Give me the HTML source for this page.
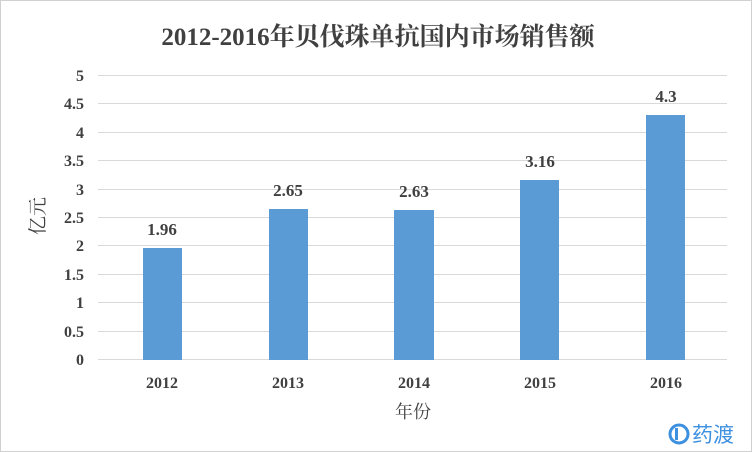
<!DOCTYPE html>
<html><head><meta charset="utf-8"><style>
html,body{margin:0;padding:0;background:#fff}
svg{display:block}
text{font-family:"Liberation Serif","Noto Serif CJK SC",serif;fill:#404040}
</style></head><body>
<svg width="752" height="452" viewBox="0 0 752 452">
<rect x="0.5" y="0.5" width="751" height="451" fill="#fff" stroke="#d0d0d0" stroke-width="1"/>
<text x="378" y="45" text-anchor="middle" font-size="25" font-weight="bold">2012-2016年贝伐珠单抗国内市场销售额</text>
<g stroke="#d9d9d9" stroke-width="1">
<line x1="98" x2="727" y1="75.5" y2="75.5"/>
<line x1="98" x2="727" y1="103.5" y2="103.5"/>
<line x1="98" x2="727" y1="132.5" y2="132.5"/>
<line x1="98" x2="727" y1="160.5" y2="160.5"/>
<line x1="98" x2="727" y1="189.5" y2="189.5"/>
<line x1="98" x2="727" y1="217.5" y2="217.5"/>
<line x1="98" x2="727" y1="245.5" y2="245.5"/>
<line x1="98" x2="727" y1="274.5" y2="274.5"/>
<line x1="98" x2="727" y1="302.5" y2="302.5"/>
<line x1="98" x2="727" y1="331.5" y2="331.5"/>
<line x1="98" x2="727" y1="359.5" y2="359.5"/>
</g>
<g font-size="16" font-weight="bold" text-anchor="end">
<text x="84" y="81">5</text><text x="84" y="109">4.5</text><text x="84" y="138">4</text>
<text x="84" y="166">3.5</text><text x="84" y="195">3</text><text x="84" y="223">2.5</text>
<text x="84" y="251">2</text><text x="84" y="280">1.5</text><text x="84" y="308">1</text>
<text x="84" y="337">0.5</text><text x="84" y="365">0</text>
</g>
<g fill="#5b9bd5">
<rect x="143" y="248" width="39" height="112"/>
<rect x="269" y="209" width="39" height="151"/>
<rect x="394" y="210" width="40" height="150"/>
<rect x="520" y="180" width="39" height="180"/>
<rect x="646" y="115" width="39" height="245"/>
</g>
<g font-size="17" font-weight="bold" text-anchor="middle">
<text x="162" y="235">1.96</text><text x="288" y="196">2.65</text>
<text x="414" y="197">2.63</text><text x="540" y="167">3.16</text>
<text x="666" y="102">4.3</text>
</g>
<g font-size="16" font-weight="bold" text-anchor="middle">
<text x="162" y="388">2012</text><text x="288" y="388">2013</text>
<text x="414" y="388">2014</text><text x="540" y="388">2015</text>
<text x="666" y="388">2016</text>
</g>
<text x="413" y="418" text-anchor="middle" font-size="18">年份</text>
<text transform="translate(44,216) rotate(-90)" text-anchor="middle" font-size="19">亿元</text>
<g>
<circle cx="679" cy="434" r="9" fill="none" stroke="#3d8fe0" stroke-width="3"/>
<rect x="675" y="428" width="3" height="12" fill="#3d8fe0"/>
<text x="692" y="442" font-size="21" style="fill:#3d8fe0;font-family:'Noto Sans CJK SC',sans-serif">药渡</text>
</g>
</svg>
</body></html>
